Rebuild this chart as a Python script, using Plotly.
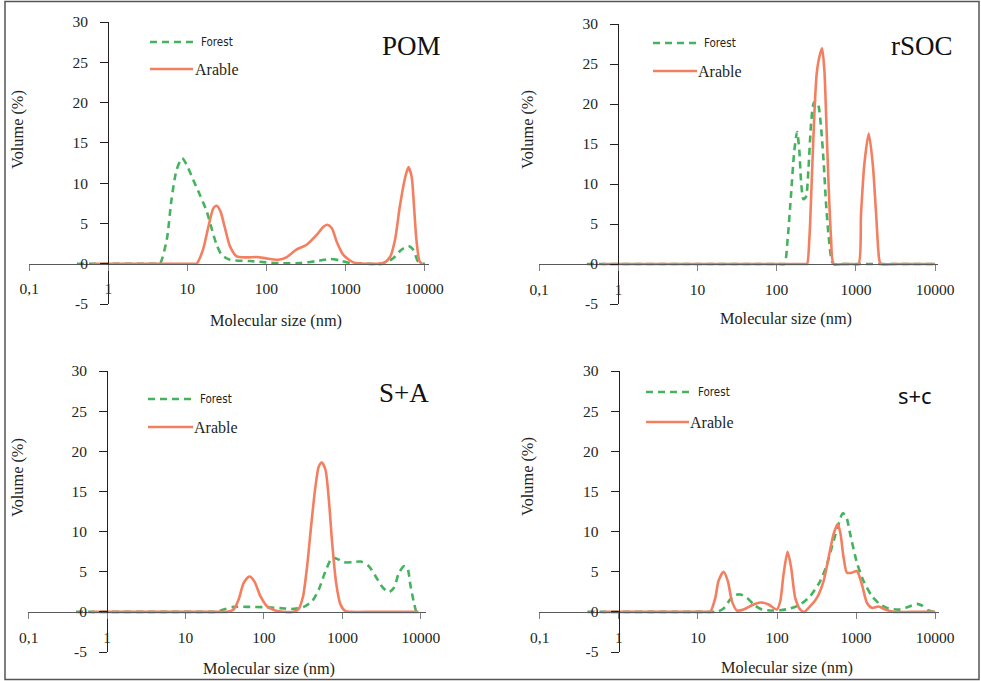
import plotly.graph_objects as go

W, H = 981, 681

# ---------------- data (molecular size in nm, volume in %) ----------------
pom_forest_x = [0.4, 1, 2.5, 4.0, 4.5, 5.5, 6.3, 7.3, 8.6, 9.8, 11.9, 14.5, 17.6, 20.3, 23.4, 27.2,
                34.7, 62, 100, 164, 269, 437, 640, 851, 1150, 1860, 3020, 4070, 5130, 6310, 7240,
                8320, 9330, 10200]
pom_forest_y = [0, 0, 0, 0, 0, 3.0, 7.9, 11.6, 13.1, 12.3, 10.4, 8.5, 6.5, 4.4, 2.4, 1.1,
                0.5, 0.33, 0.17, 0.04, 0.08, 0.33, 0.58, 0.41, 0.08, 0, 0, 0.7, 1.74, 2.2, 1.74,
                0.3, 0, 0]
pom_arable_x = [0.63, 1, 5, 10, 12, 13.1, 15.8, 18.5, 21.4, 23.5, 26.3, 30, 34.7, 42.2, 56.2, 75.5,
                100, 141, 182, 240, 324, 437, 525, 589, 676, 776, 944, 1259, 1862, 3020, 3715,
                4266, 4898, 5754, 6310, 6918, 7413, 7943, 8710, 9333]
pom_arable_y = [0, 0, 0, 0, 0, 0, 1.74, 4.6, 6.9, 7.2, 6.5, 4.4, 2.15, 0.9, 0.79, 0.83,
                0.66, 0.5, 0.83, 1.74, 2.36, 3.6, 4.55, 4.83, 4.4, 2.77, 1.1, 0.17, 0, 0.08, 0.9,
                3.0, 7.1, 10.8, 12.0, 10.8, 7.1, 3.0, 0.3, 0]

rsoc_forest_x = [0.4, 1, 10, 60, 110, 125, 138, 151, 167, 181, 193, 203, 217, 234, 251, 272, 293,
                 314, 336, 363, 393, 420, 454, 495, 525, 700, 1000, 3000, 10000]
rsoc_forest_y = [0, 0, 0, 0, 0, 0, 3.34, 8.4, 14.2, 16.5, 14.2, 10.4, 8.1, 8.4, 11.7, 17.6, 20.1,
                 20.35, 19.85, 17.1, 12.5, 7.5, 3.34, 0.4, 0, 0, 0, 0, 0]
rsoc_arable_x = [0.63, 1, 10, 100, 200, 230, 242, 259, 277, 299, 320, 346, 374, 400, 420, 450, 485,
                 525, 700, 900, 1077, 1161, 1279, 1452, 1633, 1799, 1982, 2080, 3000, 6000, 10000]
rsoc_arable_y = [0, 0, 0, 0, 0, 0, 0, 3.34, 10.4, 18.8, 23.8, 25.9, 26.95, 24.2, 18.8, 10.4, 3.34,
                 0, 0, 0, 0, 6.3, 12.5, 16.3, 12.5, 6.3, 0.4, 0, 0, 0, 0]

sa_forest_x = [0.4, 1, 5, 15, 22, 25.2, 30.6, 41, 60.8, 99, 162, 240, 321, 411, 500, 608, 740, 857,
               1042, 1334, 1702, 2178, 2649, 3221, 3917, 4539, 5260, 6095, 6730, 7413, 8185,
               8851, 9954]
sa_forest_y = [0, 0, 0, 0, 0, 0, 0.29, 0.62, 0.62, 0.58, 0.46, 0.37, 0.62, 1.33, 2.78, 5.06, 6.72,
               6.6, 6.18, 6.18, 6.27, 5.68, 4.44, 3.11, 2.45, 2.99, 4.85, 5.68, 5.48, 3.2, 1.12,
               0, 0]
sa_arable_x = [0.63, 1, 5, 20, 30, 33.7, 41, 47.5, 55.1, 65.2, 75.3, 90, 109, 147, 240, 277, 315,
               355, 403, 453, 500, 546, 608, 671, 740, 832, 946, 1096, 1259, 2500, 5000, 9333]
sa_arable_y = [0, 0, 0, 0, 0, 0, 0.29, 1.54, 3.6, 4.4, 3.8, 1.95, 0.7, 0.12, 0, 0.37, 1.95,
               5.7, 11.1, 15.6, 18.1, 18.6, 17.7, 14.0, 8.6, 3.6, 0.9, 0.08, 0, 0, 0, 0]

sc_forest_x = [0.4, 1, 5, 12, 15.5, 17.4, 21.1, 25.6, 29.6, 34.3, 41.7, 50.6, 64.6, 82, 110, 147,
               197, 263, 352, 428, 519, 600, 675, 743, 843, 1023, 1242, 1585, 2018, 2570, 3614,
               4831, 5875, 6792, 8241, 9550]
sc_forest_y = [0, 0, 0, 0, 0, 0, 0.42, 1.54, 2.09, 2.17, 1.75, 0.92, 0.29, 0.17, 0.21, 0.42,
               0.92, 1.96, 3.84, 5.92, 8.84, 10.9, 12.26, 11.97, 9.68, 6.13, 3.84, 1.96, 0.92,
               0.42, 0.29, 0.71, 1.0, 0.79, 0.17, 0]
sc_arable_x = [0.63, 1, 5, 11, 13, 14.3, 16.6, 18.2, 21.1, 23.9, 26.9, 31.1, 37.8, 48.2, 61.4,
               78.2, 99.8, 110, 121, 136, 151, 170, 197, 221, 263, 319, 388, 449, 519, 583, 631,
               695, 766, 885, 1023, 1183, 1371, 1585, 1923, 2333, 2979, 5000, 10000]
sc_arable_y = [0, 0, 0, 0, 0, 0, 1.75, 3.84, 5.0, 3.84, 1.33, 0.17, 0.29, 0.83, 1.17,
               0.92, 0.29, 1.33, 4.67, 7.47, 5.5, 1.75, 0.29, 0, 0.71, 1.75, 3.84, 6.76, 9.68,
               10.93, 9.89, 6.76, 4.88, 4.88, 5.09, 3.42, 1.13, 0.5, 0.67, 0.29, 0, 0, 0]

panel_titles = ["POM", "rSOC", "S+A", "s+c"]
series_names = ["Forest", "Arable"]
x_tick_vals = [0.1, 1, 10, 100, 1000, 10000]
x_tick_text = ["0,1", "1", "10", "100", "1000", "10000"]
y_tick_vals = [-5, 0, 5, 10, 15, 20, 25, 30]
y_tick_text = ["-5", "0", "5", "10", "15", "20", "25", "30"]
x_title = "Molecular size (nm)"
y_title = "Volume (%)"

data = [
    (pom_forest_x, pom_forest_y, pom_arable_x, pom_arable_y),
    (rsoc_forest_x, rsoc_forest_y, rsoc_arable_x, rsoc_arable_y),
    (sa_forest_x, sa_forest_y, sa_arable_x, sa_arable_y),
    (sc_forest_x, sc_forest_y, sc_arable_x, sc_arable_y),
]

# ---------------- layout geometry (pixels) ----------------
# one_px: pixel x of 1 nm, dec: pixels per decade, top/bot: pixel y of 30 / -5
panels = [
    dict(one_px=108.3, dec=79.0, r1=4.06, top=22, bot=304,
         title=(411, 46, "Liberation Serif", 27), leg=(150, 193, 42, 199, 69, 193),
         xt=(276, 320), yt=(17, 130)),
    dict(one_px=618.3, dec=79.2, r1=4.04, top=24, bot=304,
         title=(922, 46, "Liberation Serif", 27), leg=(653, 697, 43, 702, 71, 696),
         xt=(786, 318), yt=(527, 130)),
    dict(one_px=107.2, dec=78.4, r1=4.06, top=371, bot=652,
         title=(404, 393, "Liberation Serif", 27), leg=(148, 193, 399, 198, 427, 192),
         xt=(269, 668), yt=(17, 478)),
    dict(one_px=618.8, dec=79.1, r1=4.05, top=371, bot=652,
         title=(915, 395, "Noto Sans", 22), leg=(646, 689, 392, 696, 422, 688),
         xt=(787, 667), yt=(527, 477)),
]

GREEN = "#45b35e"
ORANGE = "#f47f60"
SERIF = "Liberation Serif, Times New Roman, serif"
NARROW = "Liberation Sans Narrow, DejaVu Sans Condensed, Roboto, sans-serif"
INK = "#231f20"


def fx(px):
    return px / W


def fy(py):
    return 1 - py / H


fig = go.Figure()
layout = dict(
    width=W, height=H, margin=dict(l=0, r=0, t=0, b=0, autoexpand=False),
    paper_bgcolor="white", plot_bgcolor="white", showlegend=False,
    shapes=[], annotations=[],
)

r0 = -1.005
for i, (p, d) in enumerate(zip(panels, data)):
    s = "" if i == 0 else str(i + 1)
    xa, ya = "x" + s, "y" + s
    fxv, fyv, axv, ayv = d
    fig.add_trace(go.Scatter(x=fxv, y=fyv, xaxis=xa, yaxis=ya, mode="lines", name=series_names[0],
                             line=dict(color=GREEN, width=2.6, dash="7px,5px", shape="spline",
                                       smoothing=0.7)))
    fig.add_trace(go.Scatter(x=axv, y=ayv, xaxis=xa, yaxis=ya, mode="lines", name=series_names[1],
                             line=dict(color=ORANGE, width=2.6, shape="spline", smoothing=0.7)))

    x0px = p["one_px"] + r0 * p["dec"]
    x1px = p["one_px"] + p["r1"] * p["dec"]
    zero_py = p["top"] + (30 / 35) * (p["bot"] - p["top"])
    layout["xaxis" + s] = dict(
        type="log", range=[r0, p["r1"]], domain=[fx(x0px), fx(x1px)],
        anchor="free", position=fy(zero_py), side="bottom", automargin=False,
        showline=True, linecolor="#58595b", linewidth=1.3,
        ticks="outside", ticklen=6, tickcolor="#808080", tickwidth=1.3,
        tickmode="array", tickvals=x_tick_vals, ticktext=x_tick_text,
        tickfont=dict(family=SERIF, size=15.5, color=INK), ticklabelstandoff=5,
        showgrid=False, zeroline=False, fixedrange=True,
    )
    layout["yaxis" + s] = dict(
        range=[-5, 30], domain=[fy(p["bot"]), fy(p["top"])],
        anchor="free", position=fx(p["one_px"]), side="left", automargin=False,
        showline=True, linecolor=INK, linewidth=1.4,
        ticks="outside", ticklen=8, tickcolor=INK, tickwidth=1.3,
        tickmode="array", tickvals=y_tick_vals, ticktext=y_tick_text,
        tickfont=dict(family=SERIF, size=15.5, color=INK), ticklabelstandoff=9,
        showgrid=False, zeroline=False, fixedrange=True,
    )

    # panel label
    tx, ty, tfam, tsz = p["title"]
    layout["annotations"].append(dict(
        x=fx(tx), y=fy(ty), xref="paper", yref="paper", text=panel_titles[i], showarrow=False,
        xanchor="center", yanchor="middle", font=dict(family=tfam, size=tsz, color="#111111")))
    # axis titles
    layout["annotations"].append(dict(
        x=fx(p["xt"][0]), y=fy(p["xt"][1]), xref="paper", yref="paper", text=x_title,
        showarrow=False, xanchor="center", yanchor="middle",
        font=dict(family=SERIF, size=16.3, color=INK)))
    layout["annotations"].append(dict(
        x=fx(p["yt"][0]), y=fy(p["yt"][1]), xref="paper", yref="paper", text=y_title,
        showarrow=False, xanchor="center", yanchor="middle", textangle=-90,
        font=dict(family=SERIF, size=16.3, color=INK)))

    # legend samples
    lx0, lx1, fy_, ftx, ay_, atx = p["leg"]
    layout["shapes"].append(dict(type="line", xref="paper", yref="paper",
                                 x0=fx(lx0), x1=fx(lx1), y0=fy(fy_), y1=fy(fy_),
                                 line=dict(color=GREEN, width=2.6, dash="7px,5px")))
    layout["shapes"].append(dict(type="line", xref="paper", yref="paper",
                                 x0=fx(lx0), x1=fx(lx1), y0=fy(ay_), y1=fy(ay_),
                                 line=dict(color=ORANGE, width=2.6)))
    layout["annotations"].append(dict(
        x=fx(ftx), y=fy(fy_), xref="paper", yref="paper", text=series_names[0], showarrow=False,
        xanchor="left", yanchor="middle", font=dict(family=NARROW, size=11.5, color=INK)))
    layout["annotations"].append(dict(
        x=fx(atx), y=fy(ay_), xref="paper", yref="paper", text=series_names[1], showarrow=False,
        xanchor="left", yanchor="middle", font=dict(family=SERIF, size=16, color=INK)))

# outer frame
layout["shapes"].append(dict(type="rect", xref="paper", yref="paper",
                             x0=fx(5), x1=fx(979), y0=fy(679.5), y1=fy(1.5),
                             line=dict(color="#555555", width=1.5)))

fig.update_layout(**layout)
fig.write_html("out.html")
